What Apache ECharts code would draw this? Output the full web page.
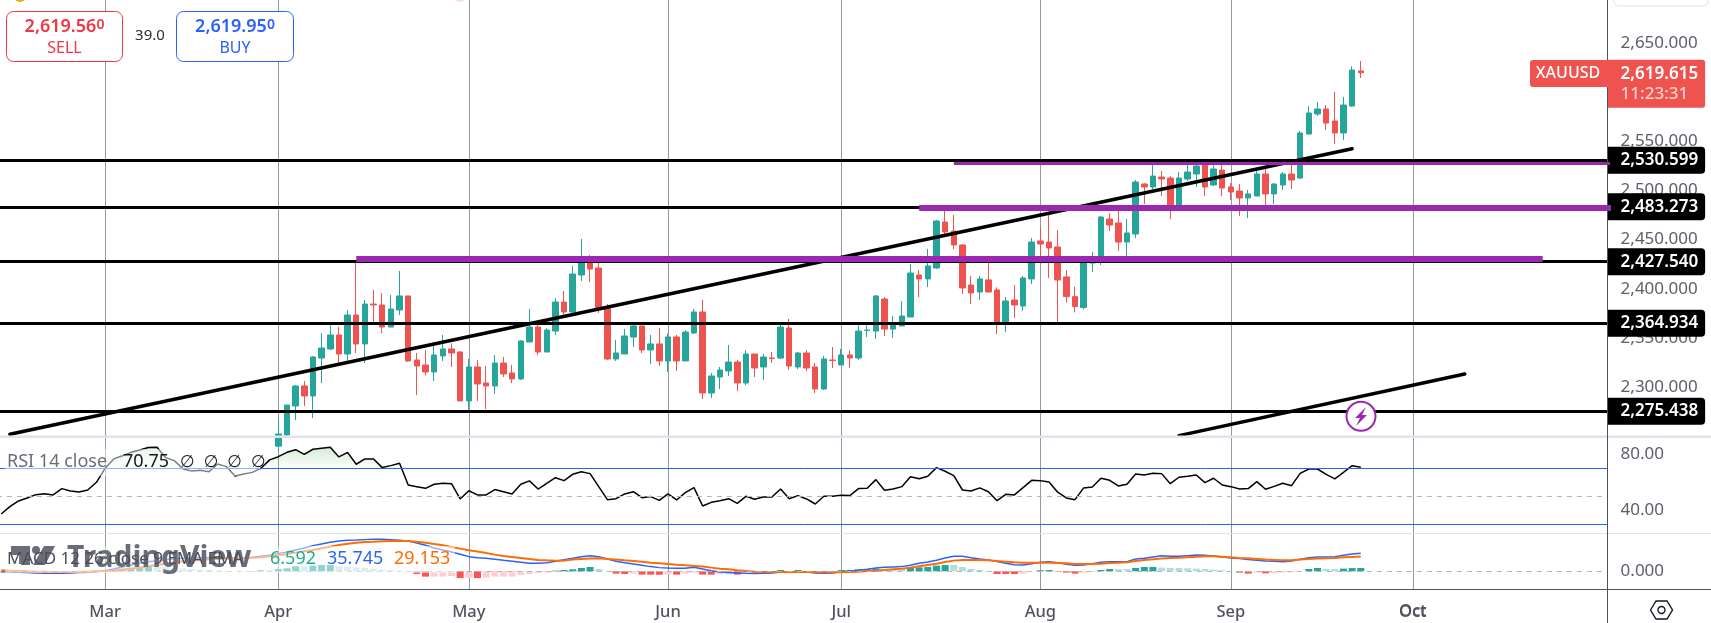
<!DOCTYPE html>
<html>
<head>
<meta charset="utf-8">
<title>XAUUSD</title>
<script src="https://cdn.jsdelivr.net/npm/echarts@6/dist/echarts.min.js"></script>
<style>
html, body { margin: 0; padding: 0; background: #fff; }
#main { width: 1711px; height: 623px; }
</style>
</head>
<body>
<div id="main"></div>
<script>
var barCount = 186;
var firstCandleBar = 32;
var monthLabels = ['Mar', 'Apr', 'May', 'Jun', 'Jul', 'Aug', 'Sep', 'Oct'];
var monthBars = [12, 32, 54, 77, 97, 120, 142, 163];

// open, close, low, high
var candles = [
  [2240,2252.3,2235,2266.6],[2251.3,2281.8,2250.3,2281.8],[2280.8,2301.1,2266.6,2302.2],[2301.2,2291,2280.8,2306.2],[2291,2330.65,2268.6,2331.7],
  [2329.6,2339.8,2304.2,2355],[2338.8,2353,2337.8,2363.2],[2353,2333.7,2324.2,2361.1],[2333.7,2373.3,2326.6,2378.4],[2373.3,2343.9,2334.7,2427.5],
  [2343.9,2384.5,2324.5,2388.6],[2384.5,2383.5,2366.2,2398.8],[2383.5,2361.1,2355,2395.7],[2361.1,2379.4,2361,2393.7],[2378.4,2392.7,2373.3,2418.1],
  [2392.7,2326.6,2325.6,2392.7],[2327.6,2321.5,2292,2334.7],[2322.5,2315.4,2312,2337.8],[2315.4,2332.7,2306.2,2345.9],[2331.7,2338.8,2326.6,2353],
  [2338.8,2334.7,2320.5,2344.5],[2335.7,2286,2286,2336.7],[2286,2320.5,2276.8,2328.6],[2320.5,2303.2,2286,2327.6],[2304.2,2301.2,2277.8,2321.5],
  [2301.2,2324.5,2293,2332.7],[2324.5,2313.4,2310.3,2330.7],[2314.4,2308.3,2304.2,2322.5],[2308.3,2346.9,2307.3,2347.9],[2345.9,2361.1,2345.9,2379.4],
  [2361.1,2335.7,2332.7,2363.2],[2335.7,2358,2335.7,2360],[2357,2386.5,2353,2390.6],[2386.5,2376.4,2372.3,2397.7],[2376.4,2415,2375.4,2423.2],
  [2414,2427.5,2407.9,2450.6],[2428.6,2420.1,2406.9,2434.3],[2421.1,2380.1,2375.4,2430],[2380.1,2328.6,2327.6,2384.5],[2328.6,2334.7,2326.6,2347.9],
  [2333.7,2352,2333.7,2359],[2350.9,2362.2,2340.8,2363.2],[2362.2,2337.8,2334.7,2362.2],[2337.8,2343.9,2323.5,2353],[2343.9,2326.6,2321.5,2360.1],
  [2326.6,2351,2315.4,2354.7],[2351,2326.6,2316.4,2353],[2326.6,2356,2326.6,2358],[2355,2376.4,2354,2379.4],[2376.4,2294,2287.9,2388.6],
  [2294,2311.3,2288.9,2314.4],[2310.3,2317.4,2298.1,2320.5],[2316.4,2325.5,2311.3,2342.8],[2325.5,2304.2,2296,2327.6],[2304.2,2333.7,2302,2337.7],
  [2333.7,2319.4,2310.3,2333.7],[2320.5,2330.6,2307.2,2333.7],[2329.6,2329,2324.5,2335.7],[2329.6,2361.1,2328.6,2363.2],[2360.1,2321.5,2317.4,2369.3],
  [2320.5,2334.7,2318.4,2335.7],[2334.7,2319.4,2316.4,2337.7],[2320.5,2298.1,2294,2324.5],[2298.1,2328.6,2297,2331.6],[2327.6,2327,2319.4,2340.8],
  [2322.5,2332.7,2322.5,2338.8],[2332.7,2329.6,2319.4,2337.7],[2329.6,2357,2327.6,2363.2],[2357.6,2358,2351,2363.2],[2357,2392.7,2349,2393.7],
  [2389.6,2359,2352,2391.6],[2359,2363.2,2350,2372.3],[2362.2,2372.3,2362,2387.6],[2371.3,2416,2371,2425.2],[2414,2410,2391.6,2419],
  [2410,2423.2,2401.8,2440.4],[2421.1,2468.9,2420,2469.9],[2467.9,2457.7,2454.7,2480],[2458.7,2444.5,2440.4,2475],[2444.5,2400.8,2394.7,2445.5],
  [2403.8,2395.7,2384.5,2413],[2396.7,2410,2388.6,2413],[2409,2396.7,2396.7,2426.5],[2398.8,2366.2,2354,2401.5],[2366.2,2387.6,2356,2391.6],
  [2388.6,2383.5,2370.3,2403.8],[2382.5,2411,2377.4,2413],[2410,2447.5,2404.9,2451.6],[2448.6,2445.5,2425,2462.8],[2447.5,2441.5,2411,2476.7],
  [2442.5,2408.9,2366.2,2459.7],[2412,2392,2386,2419],[2392,2382,2376,2402],[2381,2426.2,2379,2429],[2426.2,2431.5,2417,2437.4],
  [2431,2472.9,2424.2,2474],[2470.9,2464.8,2458.7,2477],[2466.9,2447.5,2438.4,2479],[2447.5,2456.7,2432.6,2470.9],[2455.7,2508.5,2451.6,2510.6],
  [2506.5,2503.5,2486.2,2507.5],[2503.5,2514.6,2501.4,2527],[2513.6,2511.6,2494.3,2519.7],[2512.6,2483.5,2470.9,2514.6],[2483.5,2512.6,2479,2518.7],
  [2511.6,2518.7,2509.6,2527],[2516.7,2524.8,2503.5,2530],[2527,2503.5,2494.3,2532],[2505.5,2521.8,2504.5,2529],[2520.7,2502.4,2494.3,2528],
  [2503.5,2498.4,2490.2,2507.5],[2499.4,2492.3,2474,2506.5],[2492.3,2496.4,2471.9,2500.4],[2494.3,2516.7,2494.3,2520.7],[2516.7,2496.4,2485.2,2522],
  [2496.4,2506.5,2486.2,2507.5],[2505.5,2516.7,2500.4,2518.7],[2516.7,2510.6,2501.4,2525.8],[2512.6,2558.4,2511.6,2560.4],[2557.3,2578.7,2557,2585.8],
  [2577.7,2582.8,2575.6,2589.9],[2582.8,2568.5,2561.4,2586.8],[2570.6,2558.4,2547.2,2600],[2558.4,2586.8,2551.2,2595],[2585.8,2622.4,2584.8,2626.1],
  [2621.4,2619.6,2614.3,2631.6]
];

var rsiValues = [
  37.4,42.6,46.7,48.8,51.2,51.9,51,55.5,53.8,53.1,54.5,60,70,76.7,79,81.4,83.1,84.8,85,77.6,75.5,69.5,68.1,68.6,67.6,73.1,71.2,64.5,66,67.1,70,76,
  78.3,81.4,83.3,80,83.6,84.3,85,78.1,81.4,72.9,76.7,76.7,70.5,71.9,73.6,58.1,56.9,55.7,58.6,59.3,59,48.1,54,51,51,54.8,53.3,51.7,58.6,61,55.2,59.3,63.3,61.2,
  65.7,67.6,66.2,56.9,47.6,48.3,51.7,53.3,49,49.8,47.1,51.7,47.4,52.6,56.2,43.1,45.7,46.9,48.3,45,50,47.9,49.5,49.5,55.2,48.3,50.5,48.1,44.5,50,50,50.7,50.5,55.5,55.7,61.9,54.3,55.2,56.9,64,62.6,64.3,70.5,67.9,64.8,54.5,53.8,56,53.3,46.9,51.4,51,56.2,61.4,61.2,60.2,52.9,48.8,47.6,56,56.7,62.9,61.4,57.4,58.6,66,
  65.2,66.4,66.2,59,63.6,64.3,65.2,59.8,62.9,58.1,56.9,55.2,55.5,60.5,55,57.1,59.3,57.6,66.4,69.5,69.5,65.7,62.4,67.1,71.9,70.75
];

var macdValues = [
  -0.7,-1.3,-2,-2.6,-3.3,-4,-4,-4,-3.3,-2.6,-2,-0.7,1.3,4.6,8.6,12.6,15.9,19.2,21.2,23.2,24.5,25.8,26.5,27.1,27.1,26.5,25.8,25.8,26.5,27.8,29.8,31.8,
  35.1,38.4,42.4,46.3,51,54.3,57.6,60.2,61.6,62.2,62.9,63.6,63.6,62.9,61.6,60.2,56.3,51.6,46.3,42.4,38.4,33.8,29.1,27.1,25.8,23.8,21.8,19.9,17.9,15.9,15.9,17.2,19.9,23.2,
  25.8,29.1,31.1,29.1,24.5,19.9,17.2,14.6,11.9,9.3,7.3,6.6,6,6,7.9,4.6,1.3,-1.3,-2.6,-3.3,-4,-4.6,-4,-3.3,-1.3,-0.7,-0.7,-1.3,-3.3,-4,-3.3,-0.7,0.7,2,4,6.6,7.9,8.6,9.3,11.9,15.9,18.5,21.8,26.5,29.8,29.8,27.1,24.5,22.5,19.2,15.9,13.2,12.6,15.2,17.9,19.2,17.2,13.9,11.9,12.6,15.2,17.9,19.2,19.2,19.2,24.5,
  25.8,28.5,31.1,29.8,29.8,31.1,32.4,31.8,30.5,28.5,26.5,25.2,23.2,21.8,20.5,19.9,19.2,20.5,23.8,27.1,28.5,28.5,29.1,31.8,34.4,35.745
];

var signalValues = [
  2,1.3,0.7,0,-0.7,-0.7,-1.3,-1.3,-1.3,-0.7,-0.7,0,0.7,1.3,3.3,5.3,7.3,9.9,12.6,15.2,17.9,19.9,21.2,22.5,23.8,24.5,25.2,25.8,26.5,27.1,27.8,29.8,
  31.8,34.4,37.1,39.7,42.4,45.7,49,52.3,54.9,56.9,58.3,58.9,59.6,60.2,60.2,60.2,58.9,56.9,54.3,51.6,48.3,45,41.7,39.1,36.4,33.1,30.5,28.5,26.5,24.5,22.5,21.8,21.2,21.2,
  23.2,24.5,25.2,25.8,24.5,23.2,21.8,20.5,19.2,17.2,15.9,14.6,13.2,11.9,10.6,9.3,7.3,5.3,4,2,0.7,-0.7,-1.3,-1.3,-1.3,-1.3,-1.3,-1.3,-1.3,-2,-2,-2,-1.3,-0.7,0.7,1.3,2.6,4,5.3,7.3,9.9,12.6,15.2,18.5,21.2,22.5,22.5,22.5,21.8,20.5,19.2,17.9,17.2,17.2,17.2,17.2,16.6,15.9,14.6,14.6,14.6,15.2,16.6,17.2,17.9,20.5,
  22.5,23.8,25.2,26.5,27.1,27.8,29.1,29.8,29.8,29.1,27.8,26.5,25.8,24.5,23.2,22.5,21.8,21.8,23.2,24.5,25.2,25.8,26.5,27.8,28.5,29.153
];

var histValues = [
  -2.7,-2.6,-2.7,-2.6,-2.6,-3.3,-2.7,-2.7,-2,-1.9,-1.3,-0.7,0.6,3.3,5.3,7.3,8.6,9.3,8.6,8,6.6,5.3,4.6,3.3,2.7,1.3,0.6,0,0,0.7,2,2,
  4.6,6,9.9,9.8,11.3,12.6,12.7,9.9,9.7,7.9,6.6,5.3,3.3,2,0.7,-0.7,-5.3,-10.6,-10.5,-10.4,-9.3,-13.2,-13.1,-13.3,-12.6,-10.6,-10.5,-10.4,-7.3,-5.3,-3.3,-2.6,1.3,2.6,
  4,6.6,8.6,4.6,0,-4.6,-5.3,-4.6,-6.6,-6.7,-6.8,-6.5,-6.6,-4.6,-2.6,-6.6,-6.7,-6,-5.9,-6.6,-1.3,-0.7,-0.2,0,2.6,0.7,2.6,0.7,-0.7,-1.3,-0.7,2.6,2.7,4,4.1,5.3,4.6,4.5,4.4,6.6,7.9,8.6,11.3,12.6,12.5,8.6,4.6,2.6,-0.1,-5.3,-5.4,-5.5,-4.6,0,2,2.6,-0.7,-2.6,-4.6,-2.6,-1.3,2.6,4.6,4.5,4.4,6.6,
  8.6,8.7,7.3,6.6,6.5,6,5.3,4.6,3.3,2,0,-2.6,-4.6,-2.6,-4,-3.9,-2.6,-2,0,4.6,6.6,4.6,4.5,5.3,6.4,6.592
];

var levelValues = [2530.599, 2483.273, 2427.54, 2364.934, 2275.438];
var lastPrice = 2619.615;

// bar index + price for the drawn lines
var trendA = [[1, 2252.1], [156, 2542.3]];
var trendB = [[136, 2250.7], [169, 2313.4]];
var purpleHigh = [[110, 2527.3], [186, 2527.3]];
var purpleMid = [[106, 2482.1], [186, 2482.1]];
var purpleLow = [[41, 2430.3], [178, 2430.3]];

var rsiTicks = [80, 40];
var macdTicks = [0];

var UP = '#26a69a', DOWN = '#ef5350', PURPLE = '#9c27b0', FONT = '"Noto Sans", "DejaVu Sans", sans-serif';

var categories = [];
for (var i = 0; i < barCount; i++) {
  var m = monthBars.indexOf(i);
  categories.push(m >= 0 ? monthLabels[m] : 'b' + i);
}
function isMonth(idx, val) { return monthLabels.indexOf(val) >= 0; }

var candleData = new Array(firstCandleBar).fill('-').concat(candles);

var rsiOver = rsiValues.map(function (v) { return v > 70 ? v : 70; });

var histData = histValues.map(function (v, idx) {
  var prev = idx > 0 ? histValues[idx - 1] : v;
  var c;
  if (v >= 0) c = v > prev ? '#26a69a' : '#b2dfdb';
  else c = v < prev ? '#ff5252' : '#ffcdd2';
  return { value: v, itemStyle: { color: c } };
});

function priceText(v) {
  return v.toLocaleString('en-US', { minimumFractionDigits: 3, maximumFractionDigits: 3 });
}

function xAxisFor(gridIndex, showLabel) {
  return {
    type: 'category',
    gridIndex: gridIndex,
    data: categories,
    axisLine: { show: false },
    axisTick: { show: false },
    axisLabel: {
      show: showLabel,
      interval: isMonth,
      margin: 14,
      color: '#50535e',
      fontFamily: FONT,
      fontSize: 16.5,
      fontWeight: 500
    },
    splitLine: {
      show: true,
      interval: isMonth,
      alignWithLabel: true,
      lineStyle: { color: '#9598a1', width: 1 }
    }
  };
}

var axisLabelStyle = { color: '#5d606b', fontFamily: FONT, fontSize: 17, margin: 13 };

function drawnLine(points, color, width, cap) {
  return {
    type: 'line', xAxisIndex: 0, yAxisIndex: 0, data: points, symbol: 'none', z: 5,
    silent: true, lineStyle: { color: color, width: width, cap: cap }
  };
}

var myChart = echarts.init(document.getElementById('main'));

var option = {
  animation: false,
  backgroundColor: '#fff',
  grid: [
    { outerBoundsMode: 'none', left: -3.15, width: 1610.76, top: -6.3, height: 442.6 },
    { outerBoundsMode: 'none', left: -3.15, width: 1610.76, top: 438, height: 95 },
    { outerBoundsMode: 'none', left: -3.15, width: 1610.76, top: 534, height: 55.3 }
  ],
  xAxis: [xAxisFor(0, false), xAxisFor(1, false), xAxisFor(2, true)],
  yAxis: [
    {
      gridIndex: 0, position: 'right', scale: true, min: 2250, max: 2700, interval: 50,
      axisLine: { show: false }, axisTick: { show: false },
      splitLine: { show: true, lineStyle: { color: '#fff', width: 1 } },
      axisLabel: Object.assign({
        showMinLabel: false, showMaxLabel: false,
        formatter: priceText
      }, axisLabelStyle)
    },
    {
      gridIndex: 1, position: 'right', min: 23.8, max: 91.64,
      axisLine: { show: false },
      axisTick: { show: false, customValues: rsiTicks },
      splitLine: { show: true, lineStyle: { color: '#fff', width: 1 } },
      axisLabel: Object.assign({
        customValues: rsiTicks,
        formatter: function (v) { return v.toFixed(2); }
      }, axisLabelStyle)
    },
    {
      gridIndex: 2, position: 'right', min: -35.74, max: 74.07,
      axisLine: { show: false },
      axisTick: { show: false, customValues: macdTicks },
      splitLine: { show: false },
      axisLabel: Object.assign({
        customValues: macdTicks,
        formatter: function (v) { return v.toFixed(3); }
      }, axisLabelStyle)
    }
  ],
  series: [
    {
      name: 'XAUUSD', type: 'candlestick', xAxisIndex: 0, yAxisIndex: 0, data: candleData,
      barWidth: 6, z: 2,
      itemStyle: { color: UP, color0: DOWN, borderColor: UP, borderColor0: DOWN, borderWidth: 1 }
    },
    {
      name: 'levels', type: 'line', xAxisIndex: 0, yAxisIndex: 0, data: [], z: 4,
      markLine: {
        silent: true, symbol: 'none', animation: false, precision: 3,
        lineStyle: { color: '#000', width: 3, type: 'solid' },
        label: {
          show: true, position: 'end', distance: 0,
          formatter: function (p) { return priceText(p.value); },
          backgroundColor: '#000', color: '#fff', fontFamily: FONT, fontSize: 17, fontWeight: 600,
          lineHeight: 17, padding: [5, 7, 5, 13], borderRadius: [0, 4, 4, 0]
        },
        data: levelValues.map(function (v) { return { yAxis: v }; })
      }
    },
    {
      name: 'last', type: 'line', xAxisIndex: 0, yAxisIndex: 0, data: [], z: 4,
      markLine: {
        silent: true, symbol: 'none', animation: false, precision: 3,
        lineStyle: { color: 'rgba(0,0,0,0)', width: 0 },
        label: {
          show: true, position: 'end', distance: 0, offset: [0, 11],
          formatter: function (p) {
            return '{a|' + priceText(p.value) + '}\n{b|11:23:31}';
          },
          backgroundColor: DOWN, fontFamily: FONT, padding: [4, 7, 4, 13], borderRadius: [0, 3, 3, 0],
          rich: {
            a: { color: '#fff', fontFamily: FONT, fontSize: 17, fontWeight: 600, lineHeight: 20 },
            b: { color: '#fbd0cf', fontFamily: FONT, fontSize: 17, fontWeight: 500, lineHeight: 20 }
          }
        },
        data: [{ yAxis: lastPrice }]
      }
    },
    drawnLine(trendA, '#000', 3.5, 'round'),
    drawnLine(trendB, '#000', 3.5, 'round'),
    drawnLine(purpleHigh, PURPLE, 3, 'butt'),
    drawnLine(purpleMid, PURPLE, 6, 'butt'),
    drawnLine(purpleLow, PURPLE, 6, 'butt'),
    {
      name: 'RSI over', type: 'line', xAxisIndex: 1, yAxisIndex: 1, data: rsiOver, symbol: 'none', z: 1,
      lineStyle: { width: 0 }, silent: true,
      areaStyle: {
        origin: 70,
        color: new echarts.graphic.LinearGradient(0, 0, 0, 1, [
          { offset: 0, color: 'rgba(76,175,80,0.35)' },
          { offset: 1, color: 'rgba(76,175,80,0.02)' }
        ])
      }
    },
    {
      name: 'RSI', type: 'line', xAxisIndex: 1, yAxisIndex: 1, data: rsiValues, symbol: 'none', z: 3,
      lineStyle: { color: '#000', width: 1.5 },
      markLine: {
        silent: true, symbol: 'none', animation: false, label: { show: false },
        data: [
          { yAxis: 70, lineStyle: { color: '#2962ff', width: 1, type: 'solid' } },
          { yAxis: 50, lineStyle: { color: '#b2b5be', width: 1, type: [5, 5] } },
          { yAxis: 30, lineStyle: { color: '#2962ff', width: 1, type: 'solid' } }
        ]
      }
    },
    {
      name: 'Histogram', type: 'bar', xAxisIndex: 2, yAxisIndex: 2, data: histData, barWidth: 7, z: 2,
      markLine: {
        silent: true, symbol: 'none', animation: false, label: { show: false },
        data: [{ yAxis: 0, lineStyle: { color: '#b2b5be', width: 1, type: [5, 5] } }]
      }
    },
    {
      name: 'MACD', type: 'line', xAxisIndex: 2, yAxisIndex: 2, data: macdValues, symbol: 'none', z: 3,
      lineStyle: { color: '#2962ff', width: 1.5 }
    },
    {
      name: 'Signal', type: 'line', xAxisIndex: 2, yAxisIndex: 2, data: signalValues, symbol: 'none', z: 3,
      lineStyle: { color: '#ff6d00', width: 2 }
    }
  ],
  graphic: [
    // pane borders
    { type: 'rect', z: 20, silent: true, shape: { x: 0, y: 435.6, width: 1711, height: 2.4 }, style: { fill: '#e0e3eb' } },
    { type: 'rect', z: 20, silent: true, shape: { x: 0, y: 533, width: 1711, height: 1 }, style: { fill: '#e0e3eb' } },
    { type: 'rect', z: 20, silent: true, shape: { x: 0, y: 589, width: 1711, height: 1 }, style: { fill: '#50535e' } },
    { type: 'rect', z: 20, silent: true, shape: { x: 1607, y: 0, width: 1, height: 623 }, style: { fill: '#50535e' } },

    // the axis leaves out its last month
    { type: 'text', z: 20, silent: true, x: 1413, y: 611, style: { text: 'Oct', fill: '#50535e', fontFamily: FONT, fontSize: 16.5, fontWeight: 500, align: 'center', verticalAlign: 'middle' } },

    // top edge bits
    { type: 'circle', z: 20, silent: true, shape: { cx: 20, cy: -4, r: 6 }, style: { fill: '#f7a600' } },
    { type: 'circle', z: 20, silent: true, shape: { cx: 460, cy: -4, r: 6 }, style: { fill: '#fcdcdc' } },
    { type: 'rect', z: 20, silent: true, shape: { x: 1614, y: -20, width: 94, height: 26, r: 5 }, style: { fill: '#fff', stroke: '#e0e3eb', lineWidth: 1 } },

    // sell and buy boxes
    { type: 'rect', z: 30, silent: true, shape: { x: 6.5, y: 11.5, width: 116, height: 50, r: 7 }, style: { fill: '#fff', stroke: '#f23645', lineWidth: 1 } },
    { type: 'rect', z: 30, silent: true, shape: { x: 176.5, y: 11.5, width: 117, height: 50, r: 7 }, style: { fill: '#fff', stroke: '#2962ff', lineWidth: 1 } },
    {
      type: 'text', z: 31, silent: true, x: 64.5, y: 27,
      style: {
        text: '{m|2,619.56}{s|0}', align: 'center', verticalAlign: 'middle',
        rich: {
          m: { fontFamily: FONT, fontSize: 18, fontWeight: 600, fill: '#f23645' },
          s: { fontFamily: FONT, fontSize: 14, fontWeight: 600, fill: '#f23645', padding: [0, 0, 3, 0] }
        }
      }
    },
    { type: 'text', z: 31, silent: true, x: 64.5, y: 48, style: { text: 'SELL', fill: '#f23645', fontFamily: FONT, fontSize: 16, align: 'center', verticalAlign: 'middle' } },
    {
      type: 'text', z: 31, silent: true, x: 235, y: 27,
      style: {
        text: '{m|2,619.95}{s|0}', align: 'center', verticalAlign: 'middle',
        rich: {
          m: { fontFamily: FONT, fontSize: 18, fontWeight: 600, fill: '#2962ff' },
          s: { fontFamily: FONT, fontSize: 14, fontWeight: 600, fill: '#2962ff', padding: [0, 0, 3, 0] }
        }
      }
    },
    { type: 'text', z: 31, silent: true, x: 235, y: 48, style: { text: 'BUY', fill: '#2962ff', fontFamily: FONT, fontSize: 16, align: 'center', verticalAlign: 'middle' } },
    { type: 'text', z: 31, silent: true, x: 150, y: 36, style: { text: '39.0', fill: '#2a2e39', fontFamily: FONT, fontSize: 15, align: 'center', verticalAlign: 'middle' } },

    // symbol name next to the price tag
    { type: 'rect', z: 30, silent: true, shape: { x: 1530, y: 60, width: 78, height: 27, r: [3, 0, 0, 3] }, style: { fill: DOWN } },
    { type: 'text', z: 31, silent: true, x: 1568, y: 73.5, style: { text: 'XAUUSD', fill: '#fff', fontFamily: FONT, fontSize: 16, fontWeight: 500, align: 'center', verticalAlign: 'middle' } },

    // lightning button
    { type: 'circle', z: 30, silent: true, shape: { cx: 1361, cy: 416.3, r: 14.5 }, style: { fill: '#fff', stroke: PURPLE, lineWidth: 2 } },
    { type: 'polygon', z: 31, silent: true, shape: { points: [[1366, 407], [1355, 418], [1360, 418], [1356, 426], [1367, 415], [1362, 415]] }, style: { fill: PURPLE } },

    // RSI legend
    { type: 'rect', z: 24, silent: true, shape: { x: 5, y: 449, width: 255, height: 27 }, style: { fill: 'rgba(255,255,255,0.5)' } },
    { type: 'text', z: 27, silent: true, x: 7, y: 462, style: { text: 'RSI 14 close', fill: '#6a6d78', fontFamily: FONT, fontSize: 18, verticalAlign: 'middle' } },
    { type: 'text', z: 27, silent: true, x: 123, y: 462, style: { text: '70.75', fill: '#131722', fontFamily: FONT, fontSize: 18, verticalAlign: 'middle' } },
    { type: 'text', z: 27, silent: true, x: 180, y: 462, style: { text: '\u2205  \u2205  \u2205  \u2205', fill: '#131722', fontFamily: FONT, fontSize: 17, verticalAlign: 'middle' } },

    // MACD legend
    { type: 'rect', z: 24, silent: true, shape: { x: 5, y: 546, width: 450, height: 27 }, style: { fill: 'rgba(255,255,255,0.5)' } },
    { type: 'text', z: 27, silent: true, x: 7, y: 559, style: { text: 'MACD 12 26 close 9 EMA EMA', fill: '#4a4d58', fontFamily: FONT, fontSize: 17, verticalAlign: 'middle' } },
    { type: 'text', z: 27, silent: true, x: 270, y: 559, style: { text: '6.592', fill: '#22ab94', fontFamily: FONT, fontSize: 18, verticalAlign: 'middle' } },
    { type: 'text', z: 27, silent: true, x: 327, y: 559, style: { text: '35.745', fill: '#2962ff', fontFamily: FONT, fontSize: 18, verticalAlign: 'middle' } },
    { type: 'text', z: 27, silent: true, x: 394, y: 559, style: { text: '29.153', fill: '#ff6d00', fontFamily: FONT, fontSize: 18, verticalAlign: 'middle' } },

    // TradingView watermark
    { type: 'polygon', z: 25, silent: true, shape: { points: [[11, 546], [30, 546], [30, 565], [21, 565], [21, 555], [11, 555]] }, style: { fill: '#6a6d78' } },
    { type: 'circle', z: 25, silent: true, shape: { cx: 36, cy: 550, r: 4 }, style: { fill: '#6a6d78' } },
    { type: 'polygon', z: 25, silent: true, shape: { points: [[44, 546], [55, 546], [45, 565], [33, 565]] }, style: { fill: '#6a6d78' } },
    { type: 'text', z: 25, silent: true, x: 67, y: 558, style: { text: 'TradingView', fill: '#6a6d78', fontFamily: FONT, fontSize: 30, fontWeight: 700, verticalAlign: 'middle' } },

    // settings icon
    { type: 'polygon', z: 30, silent: true, shape: { points: [[1650.5, 610], [1656, 601], [1667, 601], [1672.5, 610], [1667, 619], [1656, 619]] }, style: { fill: 'none', stroke: '#131722', lineWidth: 1.4 } },
    { type: 'circle', z: 30, silent: true, shape: { cx: 1661.5, cy: 610, r: 3.5 }, style: { fill: 'none', stroke: '#131722', lineWidth: 1.4 } }
  ]
};

myChart.setOption(option);
</script>
</body>
</html>
